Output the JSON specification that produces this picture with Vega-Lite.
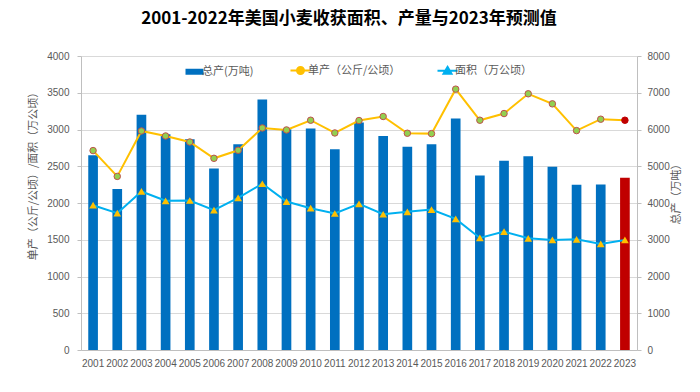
{
  "$schema": "https://vega.github.io/schema/vega-lite/v6.json",
  "width": 556,
  "height": 294,
  "autosize": {"type": "none"},
  "padding": {"left": 81, "top": 56, "right": 63, "bottom": 42},
  "background": "#ffffff",
  "title": {
    "text": "2001-2022年美国小麦收获面积、产量与2023年预测值",
    "font": "Noto Sans CJK SC",
    "fontSize": 17,
    "fontWeight": "bold",
    "color": "#000000",
    "anchor": "middle",
    "frame": "group",
    "offset": 23,
    "dx": -10
  },
  "config": {
    "view": {"stroke": null},
    "font": "Liberation Sans",
    "axis": {
      "labelFont": "Liberation Sans",
      "labelColor": "#595959",
      "labelFontSize": 10,
      "domainColor": "#BFBFBF",
      "tickColor": "#BFBFBF",
      "gridColor": "#D9D9D9",
      "titleFont": "Noto Sans CJK SC",
      "titleFontWeight": "normal",
      "titleColor": "#595959",
      "titleFontSize": 11
    }
  },
  "data": {
    "values": [
      {"year": "2001", "production": 5300, "yield": 2713, "area": 1970},
      {"year": "2002", "production": 4380, "yield": 2362, "area": 1861},
      {"year": "2003", "production": 6398, "yield": 2980, "area": 2157},
      {"year": "2004", "production": 5870, "yield": 2912, "area": 2030},
      {"year": "2005", "production": 5734, "yield": 2830, "area": 2034},
      {"year": "2006", "production": 4942, "yield": 2608, "area": 1902},
      {"year": "2007", "production": 5597, "yield": 2717, "area": 2071},
      {"year": "2008", "production": 6817, "yield": 3021, "area": 2262},
      {"year": "2009", "production": 6007, "yield": 2994, "area": 2020},
      {"year": "2010", "production": 6026, "yield": 3126, "area": 1929},
      {"year": "2011", "production": 5461, "yield": 2953, "area": 1857},
      {"year": "2012", "production": 6189, "yield": 3122, "area": 1989},
      {"year": "2013", "production": 5824, "yield": 3177, "area": 1847},
      {"year": "2014", "production": 5534, "yield": 2949, "area": 1880},
      {"year": "2015", "production": 5597, "yield": 2944, "area": 1911},
      {"year": "2016", "production": 6299, "yield": 3549, "area": 1784},
      {"year": "2017", "production": 4751, "yield": 3126, "area": 1525},
      {"year": "2018", "production": 5152, "yield": 3217, "area": 1611},
      {"year": "2019", "production": 5270, "yield": 3486, "area": 1520},
      {"year": "2020", "production": 4988, "yield": 3349, "area": 1497},
      {"year": "2021", "production": 4497, "yield": 2985, "area": 1506},
      {"year": "2022", "production": 4505, "yield": 3140, "area": 1443},
      {"year": "2023", "production": 4688, "yield": 3126, "area": 1497}
    ]
  },
  "encoding": {
    "x": {
      "field": "year",
      "type": "ordinal",
      "scale": {"paddingInner": 0.6, "paddingOuter": 0.3},
      "axis": {"labelAngle": 0, "ticks": false, "labelPadding": 8, "title": null, "domainColor": "#BFBFBF"}
    }
  },
  "layer": [
    {
      "mark": {"type": "bar"},
      "encoding": {
        "y": {
          "field": "production",
          "type": "quantitative",
          "scale": {"domain": [0, 8000], "nice": false},
          "axis": {
            "orient": "right",
            "values": [0, 1000, 2000, 3000, 4000, 5000, 6000, 7000, 8000],
            "format": "d",
            "grid": false,
            "tickSize": 4,
            "labelPadding": 6,
            "title": "总产（万吨）",
            "titleAngle": 270,
            "titlePadding": 12,
            "titleY": 135
          }
        },
        "color": {
          "condition": {"test": "datum.year === '2023'", "value": "#C00000"},
          "datum": "总产(万吨)",
          "type": "nominal",
          "scale": {
            "domain": ["总产(万吨)", "单产（公斤/公顷）", "面积（万公顷）"],
            "range": ["#0070C0", "#FFC000", "#00B0F0"]
          },
          "legend": {
            "orient": "none",
            "direction": "horizontal",
            "legendX": 108,
            "legendY": 9,
            "title": null,
            "labelFont": "Noto Sans CJK SC",
            "labelFontSize": 11,
            "labelColor": "#595959",
            "labelOffset": 2,
            "columnPadding": 32,
            "symbolSize": 400,
            "encode": {
              "symbols": {
                "update": {
                  "shape": {"signal": "datum.value === '总产(万吨)' ? 'M-0.9,-0.3L0.9,-0.3L0.9,0.3L-0.9,0.3Z' : (datum.value === '单产（公斤/公顷）' ? 'M-1,0L-0.35,0A0.35,0.35 0 1,1 0.35,0A0.35,0.35 0 1,1 -0.35,0M0.35,0L1,0' : 'M-1,0L1,0M0,-0.4L0.4,0.28L-0.4,0.28Z')"},
                  "fill": {"signal": "datum.value === '总产(万吨)' ? '#0070C0' : (datum.value === '单产（公斤/公顷）' ? '#92D050' : '#FFC000')"},
                  "stroke": {"signal": "datum.value === '总产(万吨)' ? '#0070C0' : (datum.value === '单产（公斤/公顷）' ? '#FFC000' : '#00B0F0')"},
                  "strokeWidth": {"signal": "datum.value === '总产(万吨)' ? 0 : 2"},
                  "opacity": {"value": 1},
                  "fillOpacity": {"value": 1},
                  "size": {"value": 400}
                }
              }
            }
          }
        }
      }
    },
    {
      "layer": [
        {
          "mark": {"type": "line", "strokeWidth": 2},
          "encoding": {
            "y": {
              "field": "yield",
              "type": "quantitative",
              "scale": {"domain": [0, 4000], "nice": false},
              "axis": {
                "orient": "left",
                "values": [0, 500, 1000, 1500, 2000, 2500, 3000, 3500, 4000],
                "format": "d",
                "grid": true,
                "tickSize": 4,
                "labelPadding": 8,
                "title": "单产（公斤/公顷）/面积（万公顷）",
                "titlePadding": 8,
                "titleY": 117
              }
            },
            "color": {"datum": "单产（公斤/公顷）", "type": "nominal"}
          }
        },
        {
          "mark": {"type": "line", "strokeWidth": 2},
          "encoding": {
            "y": {
              "field": "area",
              "type": "quantitative",
              "axis": {
                "orient": "left",
                "values": [0, 500, 1000, 1500, 2000, 2500, 3000, 3500, 4000],
                "format": "d",
                "grid": true,
                "tickSize": 4,
                "labelPadding": 8,
                "title": "单产（公斤/公顷）/面积（万公顷）",
                "titlePadding": 8,
                "titleY": 117
              }
            },
            "color": {"datum": "面积（万公顷）", "type": "nominal"}
          }
        },
        {
          "mark": {"type": "point", "shape": "circle", "filled": true, "size": 42, "strokeWidth": 1, "opacity": 1},
          "encoding": {
            "y": {
              "field": "yield",
              "type": "quantitative",
              "axis": {
                "orient": "left",
                "values": [0, 500, 1000, 1500, 2000, 2500, 3000, 3500, 4000],
                "format": "d",
                "grid": true,
                "tickSize": 4,
                "labelPadding": 8,
                "title": "单产（公斤/公顷）/面积（万公顷）",
                "titlePadding": 8,
                "titleY": 117
              }
            },
            "fill": {"condition": {"test": "datum.year === '2023'", "value": "#C00000"}, "value": "#92D050"},
            "stroke": {"condition": {"test": "datum.year === '2023'", "value": "#C00000"}, "value": "#C0504D"}
          }
        },
        {
          "mark": {"type": "point", "shape": "triangle-up", "filled": true, "size": 60, "color": "#FFC000", "opacity": 1},
          "encoding": {
            "y": {
              "field": "area",
              "type": "quantitative",
              "axis": {
                "orient": "left",
                "values": [0, 500, 1000, 1500, 2000, 2500, 3000, 3500, 4000],
                "format": "d",
                "grid": true,
                "tickSize": 4,
                "labelPadding": 8,
                "title": "单产（公斤/公顷）/面积（万公顷）",
                "titlePadding": 8,
                "titleY": 117
              }
            }
          }
        }
      ]
    }
  ],
  "resolve": {"scale": {"y": "independent"}}
}
